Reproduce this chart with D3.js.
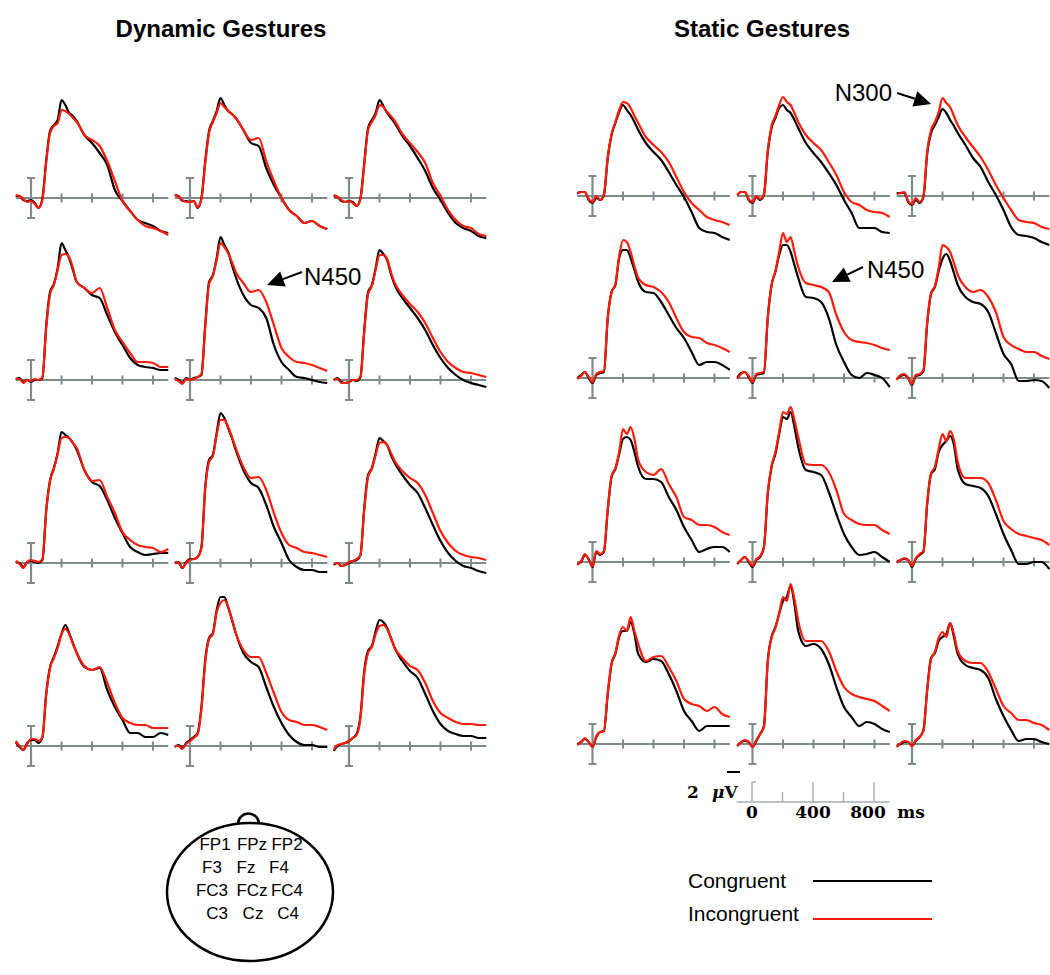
<!DOCTYPE html>
<html>
<head>
<meta charset="utf-8">
<script src="https://cdn.jsdelivr.net/npm/d3@7"></script>
<style>
  body { margin: 0; background: #fff; }
</style>
</head>
<body>
<div id="chart"></div>
<script>
// sample times (ms) shared by every waveform
const times = [-100,-75,-50,-25,0,25,50,75,100,125,150,175,200,225,250,275,300,350,400,450,500,550,600,650,700,750,800,850,900];

// amplitudes in µV (negative plotted up), electrodes in the order
// FP1 FPz FP2 / F3 Fz F4 / FC3 FCz FC4 / C3 Cz C4
const dynamicCongruent = [
  [-0.2,-0.2,0.2,0.3,0.2,0.5,1.0,0,-3.8,-6.7,-7.3,-7.8,-9.8,-9.3,-8.5,-8.2,-7.7,-6.3,-5.5,-4.5,-3.3,-0.8,0.3,1.3,2.2,2.5,2.8,3.3,3.5],
  [-0.3,-0.2,0.3,0.3,0.4,0.3,1.0,0,-3.7,-6.7,-7.7,-8.7,-10.0,-9.3,-8.7,-8.4,-8.0,-6.8,-5.5,-5.2,-3.0,-1.3,0,1.2,1.8,2.5,2.3,2.8,3.1],
  [-0.2,-0.1,0.3,0.4,0.3,0.4,0.8,0,-3.5,-7.0,-7.8,-8.5,-9.8,-9.2,-8.5,-8.0,-7.5,-6.2,-5.2,-4.0,-2.7,-1.0,0.2,1.5,2.5,3.0,3.3,3.8,4.0],
  [-0.1,-0.2,0.2,0,0.2,0,0,-0.2,-5.5,-8.8,-9.6,-11.2,-13.7,-13.0,-12.2,-11.0,-9.8,-9.2,-8.5,-8.2,-6.5,-4.8,-3.5,-2.2,-1.5,-1.3,-1.2,-1.0,-1.0],
  [-0.2,0,0.3,-0.2,0,-0.2,-0.3,-0.5,-5.5,-9.8,-10.5,-12.2,-14.3,-13.5,-12.8,-11.5,-10.3,-8.5,-7.5,-7.2,-6.2,-3.5,-1.8,-1.0,-0.3,-0.2,0,0.2,0.3],
  [0,-0.2,0.2,0.3,0.2,0,0.1,-0.3,-5.0,-8.8,-9.5,-11.2,-13.0,-12.6,-12.0,-10.6,-9.5,-8.2,-7.2,-6.2,-5.0,-3.5,-2.2,-1.2,-0.5,0,0.3,0.5,0.7],
  [-0.1,0,0.4,-0.1,-0.2,-0.1,0,-0.3,-5.3,-8.3,-9.5,-11.0,-13.1,-12.8,-12.5,-12.0,-11.3,-9.3,-8.1,-7.7,-6.3,-4.5,-3.0,-1.6,-1.1,-0.8,-0.9,-1.0,-1.0],
  [0,-0.1,0.5,-0.1,-0.4,-0.4,-0.6,-1.6,-7.6,-10.3,-10.8,-13.0,-15.0,-14.5,-13.5,-12.5,-11.3,-9.3,-8.0,-7.5,-5.8,-3.6,-2.0,-0.3,0.4,0.7,0.7,0.9,0.9],
  [0.2,0,0.3,0.2,0,-0.2,-0.3,-0.8,-5.5,-8.8,-9.5,-11.0,-12.5,-12.2,-11.8,-10.8,-10.0,-8.8,-7.8,-7.0,-5.5,-3.8,-2.2,-1.0,-0.2,0.3,0.5,0.8,1.0],
  [-0.4,0.1,0.4,-0.3,-0.6,-0.6,-0.3,-0.9,-5.3,-7.9,-8.9,-10.0,-11.2,-12.1,-11.3,-10.3,-9.3,-7.9,-7.6,-7.8,-5.6,-3.9,-2.6,-1.3,-1.3,-0.9,-0.9,-1.3,-1.1],
  [0.1,-0.1,0.2,-0.3,-0.6,-0.9,-1.3,-3.9,-8.6,-10.8,-11.3,-13.6,-14.9,-14.9,-13.9,-12.6,-11.3,-9.3,-8.4,-7.9,-5.9,-3.9,-2.3,-1.1,-0.4,-0.1,-0.1,0.1,0.1],
  [0.5,0,-0.2,-0.3,-0.5,-0.8,-1.2,-3.0,-7.5,-9.5,-10.0,-11.5,-12.6,-12.4,-11.8,-10.8,-9.8,-8.5,-7.5,-6.8,-5.2,-3.5,-2.2,-1.5,-1.2,-1.0,-1.0,-0.8,-0.8]
];

const dynamicIncongruent = [
  [-0.3,-0.2,0.1,0.4,0.3,0.6,1.0,0.2,-3.6,-6.5,-7.2,-7.5,-8.8,-8.7,-8.4,-8.0,-7.6,-6.3,-5.8,-5.2,-3.7,-1.7,0.3,1.3,2.2,2.8,3.0,3.3,3.7],
  [-0.3,-0.1,0.2,0.4,0.4,0.3,0.9,0.1,-3.5,-6.5,-7.6,-8.5,-9.5,-9.1,-8.7,-8.4,-8.0,-6.8,-5.8,-6.0,-3.7,-1.7,0,1.2,1.8,2.5,2.3,2.8,3.1],
  [-0.3,-0.1,0.2,0.4,0.3,0.5,0.8,0.1,-3.3,-6.8,-7.6,-8.3,-9.3,-9.1,-8.6,-8.2,-7.7,-6.4,-5.5,-4.6,-3.5,-1.5,-0.2,1.2,2.2,2.8,3.0,3.6,3.8],
  [-0.1,-0.1,0.3,0,0.1,-0.1,0,-0.3,-5.2,-8.6,-9.5,-11.0,-12.5,-12.6,-12.3,-11.2,-9.8,-9.2,-8.7,-9.2,-7.2,-5.0,-3.8,-2.7,-1.8,-1.8,-1.7,-1.3,-1.3],
  [-0.1,0.1,0.4,-0.1,0,-0.1,-0.3,-0.6,-5.3,-9.6,-10.4,-12.0,-13.7,-13.3,-12.7,-11.8,-10.8,-9.7,-8.8,-9.0,-7.8,-5.5,-3.2,-2.3,-1.8,-1.7,-1.5,-1.2,-0.9],
  [-0.1,-0.1,0.3,0.3,0.2,0,0,-0.3,-4.8,-8.6,-9.4,-11.0,-12.5,-12.5,-12.1,-10.8,-9.7,-8.5,-7.6,-6.8,-5.7,-4.2,-2.8,-1.8,-1.2,-0.8,-0.7,-0.5,-0.3],
  [-0.2,0.1,0.5,-0.1,-0.3,-0.2,-0.1,-0.4,-5.2,-8.2,-9.4,-10.9,-12.5,-12.6,-12.5,-12.0,-11.5,-9.3,-8.2,-8.3,-6.6,-5.0,-3.1,-2.3,-1.8,-1.6,-1.5,-1.1,-1.4],
  [-0.1,0,0.5,0,-0.3,-0.4,-0.6,-1.5,-7.4,-10.1,-10.7,-12.8,-14.3,-14.3,-13.6,-12.6,-11.5,-9.6,-8.5,-8.6,-7.3,-5.0,-3.0,-1.8,-1.5,-1.1,-1.0,-0.8,-0.6],
  [0.1,0,0.3,0.2,-0.1,-0.2,-0.4,-0.8,-5.3,-8.6,-9.4,-10.8,-12.0,-12.1,-11.8,-11.0,-10.2,-9.2,-8.5,-8.0,-6.8,-5.0,-3.2,-2.0,-1.2,-0.8,-0.6,-0.5,-0.3],
  [-0.5,0,0.4,-0.2,-0.7,-0.7,-0.5,-0.9,-5.1,-7.8,-8.8,-9.8,-11.2,-11.7,-11.2,-10.2,-9.3,-8.0,-7.6,-7.9,-6.3,-4.3,-2.8,-2.3,-2.1,-2.1,-1.8,-1.8,-1.8],
  [0,0,0.3,-0.2,-0.5,-0.8,-1.2,-3.7,-8.4,-10.7,-11.2,-13.4,-14.3,-14.6,-13.9,-12.7,-11.3,-9.6,-8.9,-8.9,-7.3,-5.3,-3.4,-2.6,-2.4,-2.1,-2.1,-1.9,-1.6],
  [0.4,-0.1,-0.2,-0.3,-0.5,-0.8,-1.1,-2.8,-7.2,-9.3,-9.9,-11.2,-12.0,-12.1,-11.7,-10.8,-9.8,-8.8,-8.0,-7.6,-6.3,-4.5,-3.3,-2.8,-2.4,-2.2,-2.2,-2.1,-2.1]
];

const staticCongruent = [
  [-0.3,-0.4,-0.4,0.4,0.7,0.2,0.4,-0.1,-3.8,-6.1,-7.3,-8.4,-9.1,-8.6,-8.1,-7.4,-6.6,-5.3,-4.4,-3.6,-2.4,-1.1,0.1,1.6,3.2,3.6,3.7,4.1,4.4],
  [-0.1,-0.4,-0.4,0.4,0.7,0.1,0.4,-0.1,-4.4,-6.8,-7.8,-8.8,-9.1,-8.6,-8.3,-7.6,-6.8,-5.3,-4.3,-3.4,-2.3,-1.1,0.4,1.7,3.2,3.2,3.2,3.6,3.7],
  [-0.3,-0.3,-0.3,0.6,0.9,0.4,0.7,0.1,-4.3,-6.3,-7.1,-7.9,-8.7,-8.3,-7.6,-7.0,-6.3,-5.1,-3.8,-2.9,-1.4,-0.1,1.4,3.1,3.9,4.0,4.2,4.6,4.9],
  [0,-0.3,-0.6,0,0.5,-0.3,-0.5,-0.6,-6.0,-8.6,-9.3,-12.0,-12.8,-12.8,-12.0,-10.8,-9.6,-8.6,-8.5,-7.6,-6.3,-5.0,-4.0,-2.6,-1.3,-1.6,-1.6,-1.3,-0.8],
  [0,-0.5,-0.6,-0.1,0.5,-0.3,-0.4,-0.5,-6.0,-9.3,-10.6,-12.3,-13.3,-13.3,-12.6,-11.3,-10.0,-8.1,-8.0,-7.6,-6.0,-3.3,-1.6,-0.3,0,-0.5,-0.3,0,0.9],
  [0.1,-0.2,-0.3,0,0.7,-0.2,-0.3,-0.7,-5.5,-8.4,-9.1,-10.7,-11.9,-12.4,-11.7,-10.5,-9.3,-8.1,-7.6,-7.4,-6.6,-4.5,-2.4,-1.4,0.3,0.3,0.2,0.3,1.0],
  [0.2,0,-0.7,-0.3,0.5,-1.0,-0.7,-1.0,-5.2,-8.5,-9.3,-10.8,-12.3,-12.5,-12.2,-11.0,-9.5,-8.3,-8.3,-8.0,-6.5,-5.2,-3.5,-2.2,-1.0,-1.3,-1.5,-1.5,-1.0],
  [0.2,-0.2,-0.5,0,0.5,-0.2,-0.5,-1.5,-6.8,-9.5,-10.8,-12.8,-14.5,-14.3,-15.0,-13.5,-11.5,-9.2,-9.0,-8.7,-7.0,-4.8,-2.8,-1.5,-0.7,-0.8,-1.0,-0.5,0],
  [0,-0.2,-0.3,-0.2,0.5,-0.3,-0.7,-1.0,-5.9,-8.8,-9.3,-11.0,-11.7,-12.1,-12.6,-11.7,-9.3,-7.8,-7.6,-7.4,-6.6,-4.8,-2.8,-1.2,0.2,0.2,0,0,0.7],
  [0,-0.2,-0.5,-0.2,0.3,-0.7,-1.2,-1.3,-5.0,-8.0,-9.0,-10.7,-11.3,-11.3,-12.2,-11.0,-9.0,-8.2,-8.5,-8.3,-7.0,-5.3,-3.3,-2.3,-1.3,-1.8,-1.8,-1.8,-1.8],
  [0.2,-0.2,-0.3,-0.2,0.3,-0.3,-1.0,-1.8,-8.3,-10.7,-11.7,-13.0,-14.3,-14.7,-15.8,-14.0,-11.3,-9.8,-10.0,-9.5,-8.0,-5.7,-3.7,-2.7,-1.8,-2.2,-2.0,-1.5,-1.2],
  [0.2,0,-0.2,-0.2,0.2,-0.3,-0.7,-1.4,-5.5,-8.6,-9.1,-10.3,-10.7,-11.0,-12.1,-10.7,-9.0,-7.9,-7.6,-7.4,-6.6,-4.5,-2.8,-1.4,-0.3,-0.5,-0.5,-0.2,0]
];

const staticIncongruent = [
  [-0.2,-0.4,-0.4,0.3,0.6,0,0.4,-0.2,-3.9,-6.2,-7.4,-8.6,-9.4,-9.3,-8.8,-8.0,-7.3,-5.9,-5.1,-4.4,-3.4,-1.9,-0.4,0.7,1.4,2.1,2.4,2.6,2.9],
  [-0.1,-0.4,-0.4,0.3,0.6,0,0.3,-0.2,-4.5,-7.0,-8.0,-9.1,-9.9,-9.4,-9.1,-8.3,-7.4,-6.1,-5.3,-4.6,-3.4,-2.1,-0.4,0.6,0.9,1.4,1.6,1.7,2.1],
  [-0.2,-0.3,-0.4,0.5,0.8,0.2,0.6,0,-4.5,-6.6,-7.4,-8.4,-9.8,-9.3,-8.9,-8.0,-7.1,-5.9,-4.9,-3.9,-2.6,-1.1,0.2,1.4,2.4,2.6,2.7,3.1,3.3],
  [0.1,-0.2,-0.6,-0.1,0.4,-0.4,-0.6,-0.7,-6.0,-8.6,-9.4,-12.2,-13.8,-13.6,-12.6,-11.2,-10.0,-9.3,-9.1,-8.6,-7.6,-6.0,-4.6,-4.1,-4.0,-3.5,-3.3,-3.0,-2.6],
  [0.1,-0.4,-0.6,-0.2,0.4,-0.4,-0.5,-0.6,-6.0,-9.3,-10.7,-12.6,-14.5,-13.6,-14.1,-12.6,-11.1,-9.5,-9.3,-9.1,-8.6,-6.3,-4.6,-3.8,-3.6,-3.5,-3.3,-3.0,-2.8],
  [0.2,-0.3,-0.4,0,0.6,-0.3,-0.4,-0.8,-5.6,-8.5,-9.2,-11.0,-13.3,-13.1,-12.6,-11.5,-10.3,-9.1,-8.6,-8.8,-8.1,-6.6,-4.1,-3.3,-2.9,-2.6,-2.6,-2.2,-1.9],
  [0.3,-0.1,-0.8,-0.2,0.4,-1.1,-0.8,-1.1,-5.3,-8.6,-9.4,-11.0,-13.3,-12.8,-13.5,-12.3,-10.2,-9.0,-8.7,-9.3,-7.8,-6.5,-4.5,-4.2,-3.7,-3.7,-3.5,-3.0,-2.7],
  [0.2,-0.2,-0.5,-0.1,0.4,-0.3,-0.6,-1.5,-6.9,-9.6,-11.0,-13.0,-15.0,-14.8,-15.5,-14.2,-12.5,-9.8,-9.7,-9.7,-9.0,-7.2,-4.8,-4.2,-3.8,-3.7,-3.7,-3.2,-2.8],
  [0.1,-0.2,-0.4,-0.2,0.4,-0.4,-0.8,-1.1,-6.0,-8.9,-9.5,-11.3,-12.8,-12.1,-13.1,-12.2,-10.0,-8.4,-8.4,-8.4,-7.9,-6.2,-4.1,-3.3,-2.8,-2.6,-2.4,-2.2,-1.7],
  [0.1,-0.2,-0.6,-0.2,0.3,-0.8,-1.2,-1.3,-5.1,-8.1,-9.1,-10.9,-11.7,-11.3,-12.7,-11.3,-10.0,-8.3,-8.7,-8.8,-7.7,-6.3,-4.5,-4.0,-3.8,-3.3,-3.7,-3.0,-2.7],
  [0.2,-0.2,-0.4,-0.2,0.3,-0.4,-1.0,-1.7,-8.2,-10.6,-11.6,-13.1,-14.7,-14.3,-16.0,-14.5,-12.3,-10.3,-10.3,-10.3,-9.3,-7.3,-5.7,-5.0,-4.7,-4.5,-4.3,-3.8,-3.3],
  [0.3,-0.1,-0.3,-0.2,0.2,-0.4,-0.7,-1.3,-5.4,-8.5,-9.2,-10.6,-11.2,-10.7,-12.1,-11.0,-9.3,-8.3,-8.1,-8.1,-7.2,-5.5,-3.8,-3.1,-2.4,-2.4,-2.1,-1.9,-1.4]
];

const titles = ["Dynamic Gestures", "Static Gestures"];
const conditions = ["Congruent", "Incongruent"];
const conditionColors = ["#000000", "#ff1a0a"];
const electrodes = [["FP1","FPz","FP2"],["F3","Fz","F4"],["FC3","FCz","FC4"],["C3","Cz","C4"]];
const axisTicks = [200, 400, 600, 800];
const calibTicks = [0, 200, 400, 600, 800];
const calibLabels = [0, 400, 800];
const calibAmp = 2; // µV
const annotations = [
  { label: "N450", group: 0, panel: 4, t: 505, v: -9.5 },
  { label: "N300", group: 1, panel: 2, t: 125, v: -9.2 },
  { label: "N450", group: 1, panel: 4, t: 521, v: -9.6 }
];

const width = 1050, height = 975;
const axisColor = "#7f8b8b";
const sans = "'Liberation Sans', Arial, sans-serif";
const serif = "'DejaVu Serif', 'Liberation Serif', serif";

const svg = d3.select("#chart").append("svg")
  .attr("width", width)
  .attr("height", height);

// panel-local scales: 0 ms / 0 µV at the origin
const x = d3.scaleLinear().domain([-100, 900]).range([-15.25, 137.25]);
const y = d3.scaleLinear().domain([0, -1]).range([0, -10]);

const line = d3.line()
  .x((d, i) => x(times[i]))
  .y(d => y(d))
  .curve(d3.curveMonotoneX);

const groups = [
  { cx: 221, cols: [31, 190, 349], rows: [198, 380, 563, 746], data: [dynamicCongruent, dynamicIncongruent] },
  { cx: 762, cols: [592.5, 752.5, 912], rows: [196, 378, 562, 744], data: [staticCongruent, staticIncongruent] }
];

groups.forEach((grp, gi) => {
  svg.append("text")
    .attr("x", grp.cx)
    .attr("y", 37)
    .attr("text-anchor", "middle")
    .style("font-family", sans)
    .style("font-weight", "bold")
    .style("font-size", "24px")
    .text(titles[gi]);

  for (let p = 0; p < 12; p++) {
    const g = svg.append("g")
      .attr("transform", `translate(${grp.cols[p % 3]},${grp.rows[Math.floor(p / 3)]})`);

    // time axis
    g.append("line")
      .attr("x1", x(-100)).attr("x2", x(900))
      .attr("y1", 0).attr("y2", 0)
      .attr("stroke", axisColor).attr("stroke-width", 2.2);

    g.selectAll(".tick")
      .data(axisTicks)
      .enter().append("line")
      .attr("x1", d => x(d)).attr("x2", d => x(d))
      .attr("y1", -4.5).attr("y2", 4.5)
      .attr("stroke", axisColor).attr("stroke-width", 2);

    // amplitude bar at stimulus onset
    g.append("line")
      .attr("x1", x(0)).attr("x2", x(0))
      .attr("y1", y(-calibAmp)).attr("y2", y(calibAmp))
      .attr("stroke", axisColor).attr("stroke-width", 2.2);
    [-calibAmp, calibAmp].forEach(v => {
      g.append("line")
        .attr("x1", x(0) - 4).attr("x2", x(0) + 4)
        .attr("y1", y(v)).attr("y2", y(v))
        .attr("stroke", axisColor).attr("stroke-width", 2);
    });

    grp.data.forEach((series, ci) => {
      g.append("path")
        .datum(series[p])
        .attr("d", line)
        .attr("fill", "none")
        .attr("stroke", conditionColors[ci])
        .attr("stroke-width", 2.2)
        .attr("stroke-linejoin", "round");
    });
  }
});

// arrows with labels
const annoLayout = [
  { text: [37, 0], anchor: "start", tail: [35, -13] },
  { text: [-39, -3], anchor: "end", tail: [-34, -11] },
  { text: [35, -4], anchor: "start", tail: [31, -15] }
];

annotations.forEach((a, i) => {
  const grp = groups[a.group];
  const tx = grp.cols[a.panel % 3] + x(a.t);
  const ty = grp.rows[Math.floor(a.panel / 3)] + y(a.v);
  const L = annoLayout[i];
  const ex = tx + L.tail[0], ey = ty + L.tail[1];
  const len = Math.hypot(L.tail[0], L.tail[1]);
  const ux = L.tail[0] / len, uy = L.tail[1] / len;
  const headLen = 17, headW = 8;
  const bx = tx + ux * headLen, by = ty + uy * headLen;

  svg.append("line")
    .attr("x1", ex).attr("y1", ey)
    .attr("x2", bx).attr("y2", by)
    .attr("stroke", "#000").attr("stroke-width", 2);

  svg.append("path")
    .attr("d", `M${tx},${ty}L${bx - uy * headW},${by + ux * headW}L${bx + uy * headW},${by - ux * headW}Z`)
    .attr("fill", "#000");

  svg.append("text")
    .attr("x", tx + L.text[0])
    .attr("y", ty + L.text[1])
    .attr("text-anchor", L.anchor)
    .style("font-family", sans)
    .style("font-size", "24px")
    .text(a.label);
});

// calibration bar
const cal = svg.append("g").attr("transform", "translate(752,802)");
const calColor = "#a8adad";
const calFont = "17px";
cal.append("line")
  .attr("x1", x(-100)).attr("x2", x(900))
  .attr("y1", 0).attr("y2", 0)
  .attr("stroke", calColor).attr("stroke-width", 1.4);
cal.selectAll(".ct")
  .data(calibTicks)
  .enter().append("line")
  .attr("x1", d => x(d)).attr("x2", d => x(d))
  .attr("y1", 0)
  .attr("y2", d => d % 400 === 0 ? y(-calibAmp) : y(-calibAmp / 2))
  .attr("stroke", calColor).attr("stroke-width", 1.4);
cal.append("line")
  .attr("x1", x(0)).attr("x2", x(0) + 4)
  .attr("y1", y(-calibAmp)).attr("y2", y(-calibAmp))
  .attr("stroke", calColor).attr("stroke-width", 1.4);
cal.selectAll(".cl")
  .data(calibLabels)
  .enter().append("text")
  .attr("x", d => x(d) - (d === 800 ? 6 : 0))
  .attr("y", 16)
  .attr("text-anchor", "middle")
  .style("font-family", serif)
  .style("font-weight", "bold")
  .style("font-size", calFont)
  .text(d => d);
cal.append("text")
  .attr("x", x(900) + 8)
  .attr("y", 16)
  .style("font-family", serif)
  .style("font-weight", "bold")
  .style("font-size", calFont)
  .text("ms");
cal.append("text")
  .attr("x", -65)
  .attr("y", -4)
  .style("font-family", serif)
  .style("font-weight", "bold")
  .style("font-size", calFont)
  .text(calibAmp);
cal.append("text")
  .attr("x", -40)
  .attr("y", -4)
  .style("font-family", serif)
  .style("font-weight", "bold")
  .style("font-size", calFont)
  .html("<tspan font-style='italic'>μ</tspan>V");
cal.append("line")
  .attr("x1", -25).attr("x2", -12)
  .attr("y1", -30).attr("y2", -30)
  .attr("stroke", "#000").attr("stroke-width", 2);

// head diagram
const head = svg.append("g");
head.append("ellipse")
  .attr("cx", 250).attr("cy", 892)
  .attr("rx", 83).attr("ry", 69)
  .attr("fill", "none").attr("stroke", "#000").attr("stroke-width", 2.5);
const nose = d3.path();
nose.arc(248.5, 824, 10.5, Math.PI, 2 * Math.PI);
head.append("path")
  .attr("d", nose.toString())
  .attr("fill", "none").attr("stroke", "#000").attr("stroke-width", 2.5);

const headCols = [[215, 252, 287], [212, 246, 279], [212, 252, 287], [217, 253, 288]];
const headRows = [850, 873, 896, 919];
electrodes.forEach((row, r) => {
  row.forEach((name, c) => {
    head.append("text")
      .attr("x", headCols[r][c])
      .attr("y", headRows[r])
      .attr("text-anchor", "middle")
      .style("font-family", sans)
      .style("font-size", "17px")
      .text(name);
  });
});

// legend
const legend = svg.append("g");
conditions.forEach((name, i) => {
  const ly = [881, 919][i];
  legend.append("text")
    .attr("x", 688)
    .attr("y", [888, 921][i])
    .style("font-family", sans)
    .style("font-size", "21px")
    .text(name);
  legend.append("line")
    .attr("x1", 813).attr("x2", 932)
    .attr("y1", ly).attr("y2", ly)
    .attr("stroke", conditionColors[i]).attr("stroke-width", 2);
});
</script>
</body>
</html>
